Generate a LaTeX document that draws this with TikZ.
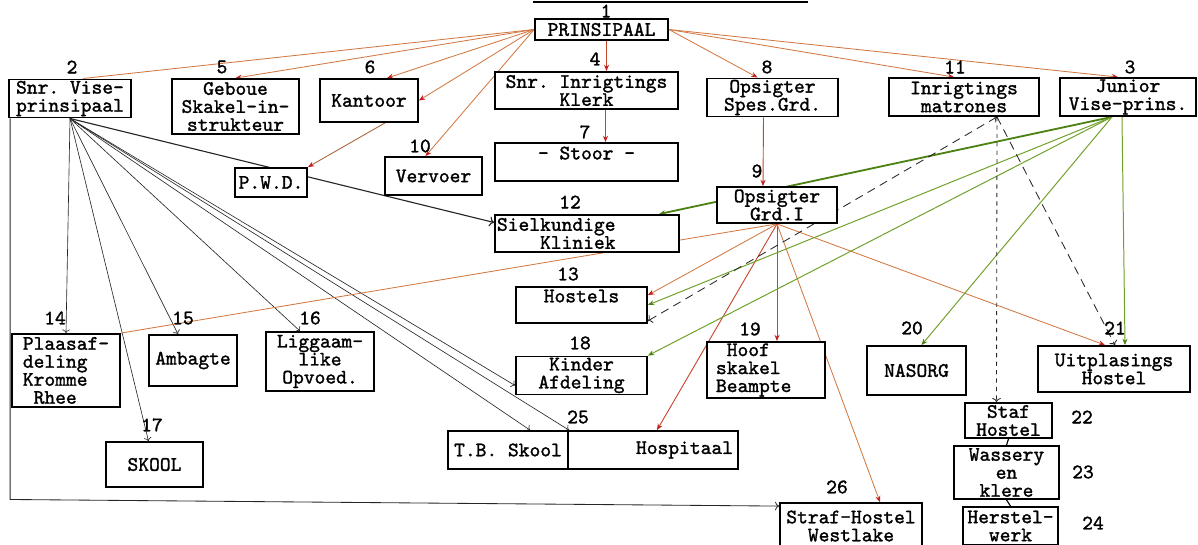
\documentclass[tikz,border=0pt]{standalone}
\usepackage{fontspec}
\setmonofont{lmmono10-regular}[Extension=.otf, FakeBold=1.4]
\usepackage{tikz}
\usetikzlibrary{arrows.meta, calc, positioning, backgrounds}
\definecolor{orgline}{RGB}{210,120,66}
\definecolor{orgtip}{RGB}{196,30,30}
\definecolor{redline}{RGB}{200,68,42}
\definecolor{grnline}{RGB}{112,160,40}
\definecolor{grndark}{RGB}{76,130,20}
\newcommand{\twfont}{\ttfamily\fontsize{14.6}{12.8}\selectfont}

\tikzset{
  office/.style 2 args={draw, line width=1.3pt, fill=white, inner sep=1pt, align=center, font=\twfont,
    minimum width=#1*0.025cm, minimum height=#2*0.025cm},
  num/.style={font=\twfont, inner sep=0pt},
  ctip/.style={-{Stealth[length=4.5pt, width=3.6pt, color=#1]}},
  orglink/.style={draw=orgline, line width=0.6pt, ctip=orgtip},
  orgplain/.style={draw=orgline, line width=0.6pt},
  redlink/.style={draw=redline, line width=0.65pt, ctip=orgtip},
  grnlink/.style={draw=grnline, line width=0.7pt, ctip=grndark},
  grnthick/.style={draw=grndark, line width=1.3pt, ctip=grndark},
  blklink/.style={draw=black!85, line width=0.45pt, ->},
  dashlink/.style={draw=black!85, line width=0.6pt, dash pattern=on 6pt off 4pt}
}

\begin{document}
\begin{tikzpicture}[x=0.025cm, y=-0.025cm]
        \useasboundingbox (0,0) rectangle (1198,545);
        \draw [line width=0.8pt] (533,2) -- (808,2);

        \node [office={133}{21}] (B1) at (601.5,29.5) {PRINSIPAAL};
        \node [office={122}{37}] (B2) at (70,98.5) {Snr. Vise-\\prinsipaal};
        \node [office={136}{38}] (B3) at (1128,97) {Junior\\Vise-prins.};
        \node [office={183}{37}] (B4) at (586.5,90.5) {Snr. Inrigtings\\Klerk};
        \node [office={127}{55}] (B5) at (235.5,106.5) {Geboue\\Skakel-in-\\strukteur};
        \node [office={98}{43}] (B6) at (369,100.5) {Kantoor};
        \node [office={183}{38}] (B7) at (586.5,162) {- Stoor -\\\mbox{}};
        \node [office={131}{37}] (B8) at (772.5,97.5) {Opsigter\\Spes.Grd.};
        \node [office={120}{36}] (B9) at (777,205) {Opsigter\\Grd.I};
        \node [office={97}{38}] (B10) at (433.5,176) {Vervoer};
        \node [office={150}{38}] (B11) at (964,97) {Inrigtings\\matrones};
        \node [office={184}{37}, text width=4.5cm, align=left] (B12) at (587,233.5) {Sielkundige\\\phantom{Siel}Kliniek};
        \node [office={131}{36}] (B13) at (581.5,305) {Hostels\\\mbox{}};
        \node [office={108}{73}, align=left] (B14) at (66,370.5) {Plaasaf-\\deling\\Kromme\\\phantom{K}Rhee};
        \node [office={88}{51}] (B15) at (193,360.5) {Ambagte};
        \node [office={108}{59}] (B16) at (320,361.5) {Liggaam-\\like\\Opvoed.};
        \node [office={97}{45}] (B17) at (154.5,464.5) {SKOOL};
        \node [office={131}{35}] (B18) at (581.5,375.5) {Kinder\\Afdeling};
        \node [office={118}{54}, text width=2.5cm, align=left] (B19) at (766,370) {\phantom{s}Hoof\\skakel\\Beampte};
        \node [office={99}{49}] (B20) at (916.5,370.5) {NASORG};
        \node [office={152}{46}] (B21) at (1114,369) {Uitplasings\\Hostel};
        \node [office={87}{35}] (B22) at (1008.5,420.5) {Staf\\Hostel};
        \node [office={105}{53}] (B23) at (1006.5,472.5) {Wassery\\en\\klere};
        \node [office={95}{38}] (B24) at (1010.5,526) {Herstel-\\werk};
        \node [office={120}{38}] (B25a) at (508,450) {T.B. Skool};
        \node [office={170}{38}, text width=4cm, align=right] (B25b) at (653,450) {Hospitaal};
        \node [office={142}{46}] (B26) at (851,526) {Straf-Hostel\\Westlake};
        \node [office={72}{29}] (PWD) at (271,182.5) {P.W.D.};

        \node [num] (n1) at (606,11) {1};
        \node [num] (n2) at (72,67) {2};
        \node [num] (n3) at (1130,67) {3};
        \node [num] (n4) at (595,59) {4};
        \node [num] (n5) at (222,67) {5};
        \node [num] (n6) at (370,67) {6};
        \node [num] (n7) at (585,132) {7};
        \node [num] (n8) at (767,67) {8};
        \node [num] (n9) at (757,171) {9};
        \node [num] (n10) at (420,146) {10};
        \node [num] (n11) at (955,67) {11};
        \node [num] (n12) at (570,202) {12};
        \node [num] (n13) at (568,274) {13};
        \node [num] (n14) at (55,318) {14};
        \node [num] (n15) at (183,318) {15};
        \node [num] (n16) at (310,318) {16};
        \node [num] (n17) at (152,425) {17};
        \node [num] (n18) at (580,343) {18};
        \node [num] (n19) at (750,329) {19};
        \node [num] (n20) at (912,328) {20};
        \node [num] (n21) at (1115,328) {21};
        \node [num] (n22) at (1082,417) {22};
        \node [num] (n23) at (1083,472) {23};
        \node [num] (n24) at (1093,523) {24};
        \node [num] (n25) at (578,417) {25};
        \node [num] (n26) at (837,487) {26};

        \coordinate (jv) at ($(B3.south)+(-16,0)$);
        \coordinate (mt) at ($(B11.south)+(33,0)$);
        \coordinate (bend) at ($(B2.south west)+(2,381)$);

        \begin{scope}[on background layer]
        \draw [orgplain] (B1.west) -- ($(B2.north)+(13,0)$);
        \draw [orglink] (B1.west) -- (B5.north);
        \draw [orglink] (B1.west) -- ($(B6.north)+(18,0)$);
        \draw [orglink] (B1.west) -- (B6.east);
        \draw [orglink] (B1.west) -- ($(B10.north)+(-8,0)$);
        \draw [redlink] ($(B1.south)+(5,0)$) -- ($(B4.north)+(20,0)$);
        \draw [redlink] ($(B4.south)+(19,0)$) -- ($(B7.north)+(19,0)$);
        \draw [orglink] (B1.east) -- ($(B8.north)+(-15,0)$);
        \draw [orglink] (B1.east) -- ($(B11.north)+(-10,0)$);
        \draw [orglink] (B1.east) -- ($(B3.north)+(-10,0)$);
        \draw [redlink] ($(B8.south)+(-9,0)$) -- ($(B9.north)+(-14,0)$);
        \draw [orglink, draw=orgline!80!black] ($(B6.south)+(16,0)$) -- (PWD.north east);

        \draw [blklink] (B2.south) -- (B14.north);
        \draw [blklink] (B2.south) -- ($(B17.north)+(-6,0)$);
        \draw [blklink] (B2.south) -- ($(B15.north)+(-15,0)$);
        \draw [blklink] (B2.south) -- ($(B16.north)+(-20,0)$);
        \draw [blklink, line width=0.8pt] (B2.south) -- ($(B12.west)+(0,-11)$);
        \draw [blklink] (B2.south) -- ($(B18.west)+(0,10)$);
        \draw [blklink] (B2.south) -- ($(B25a.north)+(22,0)$);
        \draw [blklink] (B2.south) -- (B25a.north east);
        \draw [blklink, line width=0.6pt] ($(B2.south west)+(2,0)$) -- (bend) -- ($(B26.north west)+(0,4)$);

        \draw [orglink] (B9.south) -- ($(B13.north east)+(0,9)$);
        \draw [orgplain] (B9.south) -- (B14.north east);
        \draw [redlink] (B9.south) -- ($(B19.north)+(11,0)$);
        \draw [redlink] (B9.south) -- ($(B25b.north)+(4,0)$);
        \draw [orglink] (B9.south) -- ($(B26.north)+(29,0)$);
        \draw [orglink] (B9.south) -- ($(B21.north)+(-9,0)$);

        \draw [grnthick] (jv) -- ($(B12.north east)+(-21,0)$);
        \draw [grnlink] (jv) -- (B13.east);
        \draw [grnlink] (jv) -- (B18.north east);
        \draw [grnlink] (jv) -- ($(B20.north)+(5,0)$);
        \draw [grnlink] ($(B3.south)+(-6,0)$) -- ($(B21.north)+(11,0)$);

        \draw [dashlink, <->] (mt) -- ($(B13.south east)+(0,-3)$);
        \draw [dashlink, dash pattern=on 3pt off 3pt, ->] (mt) -- ($(B22.north)+(-12,0)$);
        \draw [dashlink, ->] (mt) -- ($(B21.north)+(1,0)$);

        \draw [line width=0.8pt] (B22.south) -- (B23.north);
        \draw [line width=0.8pt] (B23.south) -- (B24.north);
        \end{scope}
\end{tikzpicture}
\end{document}
